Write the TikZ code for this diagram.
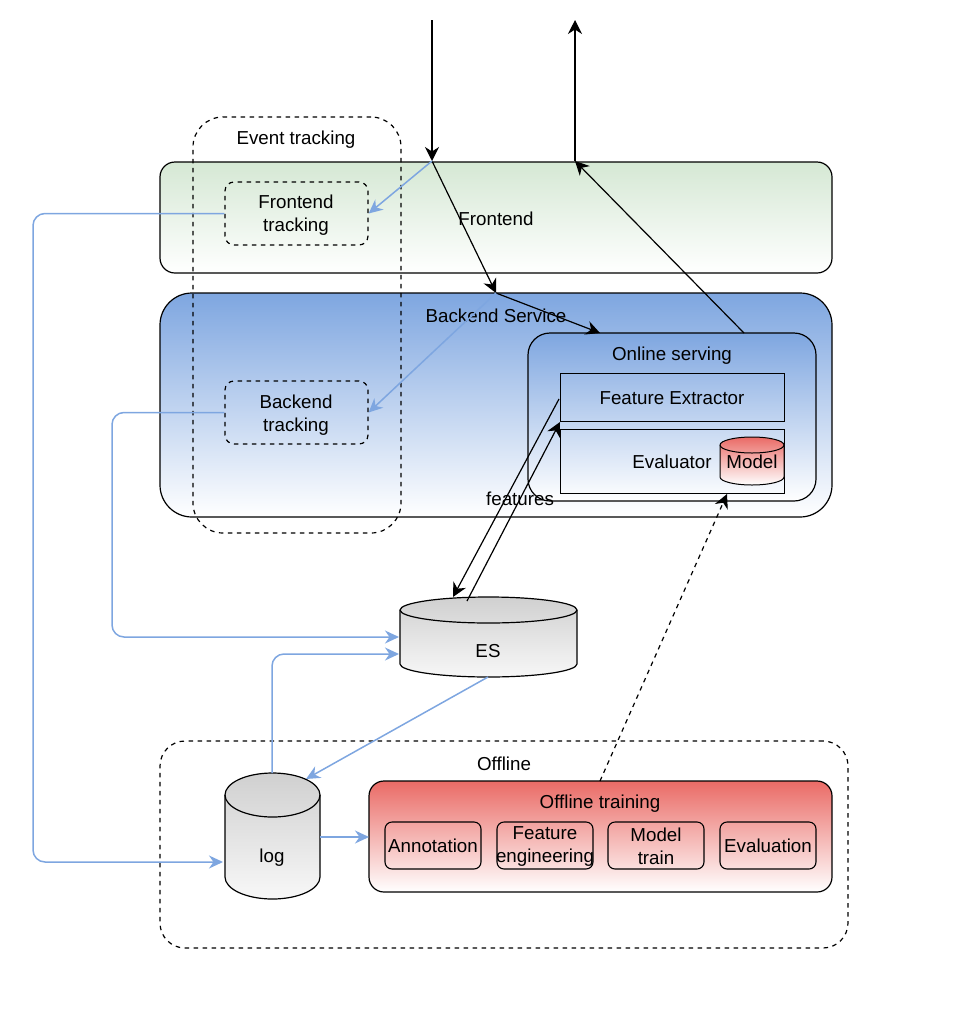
\documentclass[tikz,border=0pt]{standalone}
\usepackage{fontspec}
\setmainfont{Liberation Sans}
\usetikzlibrary{arrows.meta,calc}
\definecolor{bluel}{HTML}{7EA6E0}
\definecolor{greenl}{HTML}{D5E8D4}
\definecolor{redl}{HTML}{EA6B66}
\definecolor{grayl}{HTML}{D0D0D0}
\begin{document}
\begin{tikzpicture}[x=1pt,y=-1pt,
  every node/.style={font=\fontsize{18.75}{23.5}\selectfont, inner sep=0pt, align=center},
  box/.style={draw=black, line width=1.2pt, rectangle},
  dbox/.style={draw=black, line width=1.2pt, dash pattern=on 4.5pt off 4.5pt, rectangle},
  blk/.style={draw=black, line width=1.2pt, -{Stealth[length=14pt,width=14pt,inset=4.5pt]}},
  blu/.style={draw=bluel, line width=1.5pt, -{Stealth[length=14pt,width=13pt,inset=4.5pt]}},
  blkdash/.style={blk, dash pattern=on 4.5pt off 4.5pt},
  txt/.style={draw=none, fill=none}
]
\useasboundingbox (0,0) rectangle (955,1023);

% Frontend and Backend layers
\node[box, rounded corners=15pt, minimum width=672pt, minimum height=111pt,
      top color=greenl, bottom color=white] (fe) at (496,217.5) {};
\node[txt] (feT) at (496,219) {Frontend};
\node[box, rounded corners=32pt, minimum width=672pt, minimum height=224pt,
      top color=bluel, bottom color=white] (be) at (496,405) {};
\node[txt] (beT) at (496,316) {Backend Service};

% Event tracking
\node[dbox, rounded corners=30pt, minimum width=208pt, minimum height=416pt] (et) at (297,325) {};
\node[txt] (etT) at (296,139.5) {Event tracking};
\node[dbox, rounded corners=9pt, minimum width=143pt, minimum height=63pt] (ft) at (296.5,213.5) {};
\node[txt] (ftT) at (296,215) {Frontend\\tracking};
\node[dbox, rounded corners=9pt, minimum width=143pt, minimum height=63pt] (bt) at (296.5,412.5) {};
\node[txt] (btT) at (296,415) {Backend\\tracking};

% Online serving
\node[box, rounded corners=22pt, minimum width=288pt, minimum height=168pt,
      top color=bluel, bottom color=white] (os) at (672,417) {};
\node[txt] (osT) at (672,355.5) {Online serving};
\node[box, line width=1pt, minimum width=224pt, minimum height=48pt] (fx) at (672,397) {};
\node[txt] (fxT) at (672,398) {Feature Extractor};
\node[box, line width=1pt, minimum width=224pt, minimum height=64pt] (ev) at (672,461) {};
\node[txt] (evT) at (672,462) {Evaluator};
% Model cylinder
\path[draw=black, line width=1pt, top color=redl, bottom color=white]
  (720,445) -- (720,477) arc[start angle=180,end angle=360,x radius=32pt,y radius=8pt]
  -- (784,445) arc[start angle=0,end angle=180,x radius=32pt,y radius=8pt] -- cycle;
\draw[black, line width=1pt] (720,445) arc[start angle=180,end angle=360,x radius=32pt,y radius=8pt];
\node[txt, minimum width=64pt, minimum height=48pt] (model) at (752,461) {};
\node[txt] (modelT) at (752,462) {Model};
\node[txt] (featT) at (520,499) {features};

% ES cylinder
\path[draw=black, line width=1.2pt, top color=grayl, bottom color=white!97!black]
  (400,610) -- (400,664) arc[start angle=180,end angle=360,x radius=88.5pt,y radius=13pt]
  -- (577,610) arc[start angle=0,end angle=180,x radius=88.5pt,y radius=13pt] -- cycle;
\draw[black, line width=1.2pt] (400,610) arc[start angle=180,end angle=360,x radius=88.5pt,y radius=13pt];
\node[txt, minimum width=177pt, minimum height=80pt] (es) at (488.5,637) {};
\node[txt] (esT) at (488,651) {ES};

% Offline
\node[dbox, rounded corners=25pt, minimum width=688pt, minimum height=207pt] (off) at (504,844.5) {};
\node[txt] (offT) at (504,764) {Offline};
% log cylinder
\path[draw=black, line width=1.2pt, top color=grayl, bottom color=white!97!black]
  (225,795) -- (225,877) arc[start angle=180,end angle=360,x radius=47.5pt,y radius=22pt]
  -- (320,795) arc[start angle=0,end angle=180,x radius=47.5pt,y radius=22pt] -- cycle;
\draw[black, line width=1.2pt] (225,795) arc[start angle=180,end angle=360,x radius=47.5pt,y radius=22pt];
\node[txt, minimum width=95pt, minimum height=126pt] (log) at (272.5,836) {};
\node[txt] (logT) at (272,858) {log};

\node[box, rounded corners=15pt, minimum width=463pt, minimum height=111pt,
      top color=redl, bottom color=white] (ot) at (600.5,836.5) {};
\node[txt] (otT) at (600,803.5) {Offline training};
\node[box, line width=1.1pt, rounded corners=7pt, minimum width=96pt, minimum height=47pt] (ann) at (433,845.5) {};
\node[txt] (annT) at (433,846) {Annotation};
\node[box, line width=1.1pt, rounded corners=7pt, minimum width=96pt, minimum height=47pt] (feng) at (545,845.5) {};
\node[txt] (fengT) at (545,846.5) {Feature\\engineering};
\node[box, line width=1.1pt, rounded corners=7pt, minimum width=96pt, minimum height=47pt] (mt) at (656,845.5) {};
\node[txt] (mtT) at (656,846.5) {Model\\train};
\node[box, line width=1.1pt, rounded corners=7pt, minimum width=96pt, minimum height=47pt] (eva) at (768,845.5) {};
\node[txt] (evaT) at (768,846) {Evaluation};

% connector points
\coordinate (in0) at (432,20);
\coordinate (pA) at (432,161);
\coordinate (pB) at (496,293);
\coordinate (pC) at (600,333);
\coordinate (out0) at (575,20);
\coordinate (pD) at (575,161);
\coordinate (pE) at (744,333);
\coordinate (fxL) at (559,399);
\coordinate (esA) at (453,597);
\coordinate (esB) at (467,601);
\coordinate (evA) at (560,422);
\coordinate (esW1) at (399,637);
\coordinate (esW2) at (399,654);
\coordinate (esBot) at (488,677);
\coordinate (logTop) at (272,773);
\coordinate (logTR) at (306,779);
\coordinate (logW) at (223,862);
\coordinate (logE) at (320,837);
\coordinate (otW) at (369,837);
\coordinate (otTop) at (600,781);
\coordinate (evB) at (727,494);

% black arrows
\draw[blk] (in0) -- (pA);
\draw[blk] (pA) -- (pB);
\draw[blk] (pB) -- (pC);
\draw[blk] (pD) -- (out0);
\draw[blk] (pE) -- (pD);
\draw[blk] (fxL) -- (esA);
\draw[blk] (esB) -- (evA);
\draw[blkdash] (otTop) -- (evB);

% blue arrows
\draw[blu] (pA) -- (ft.east);
\draw[blu] (pB) -- (bt.east);
\draw[blu] (bt.west) [rounded corners=12pt] -| (112,637) [sharp corners] -- (esW1);
\draw[blu] (ft.west) [rounded corners=12pt] -| (33,862) [sharp corners] -- (logW);
\draw[blu] (logTop) [rounded corners=12pt] |- (350,654) [sharp corners] -- (esW2);
\draw[blu] (esBot) -- (logTR);
\draw[blu] (logE) -- (otW);
\end{tikzpicture}
\end{document}
